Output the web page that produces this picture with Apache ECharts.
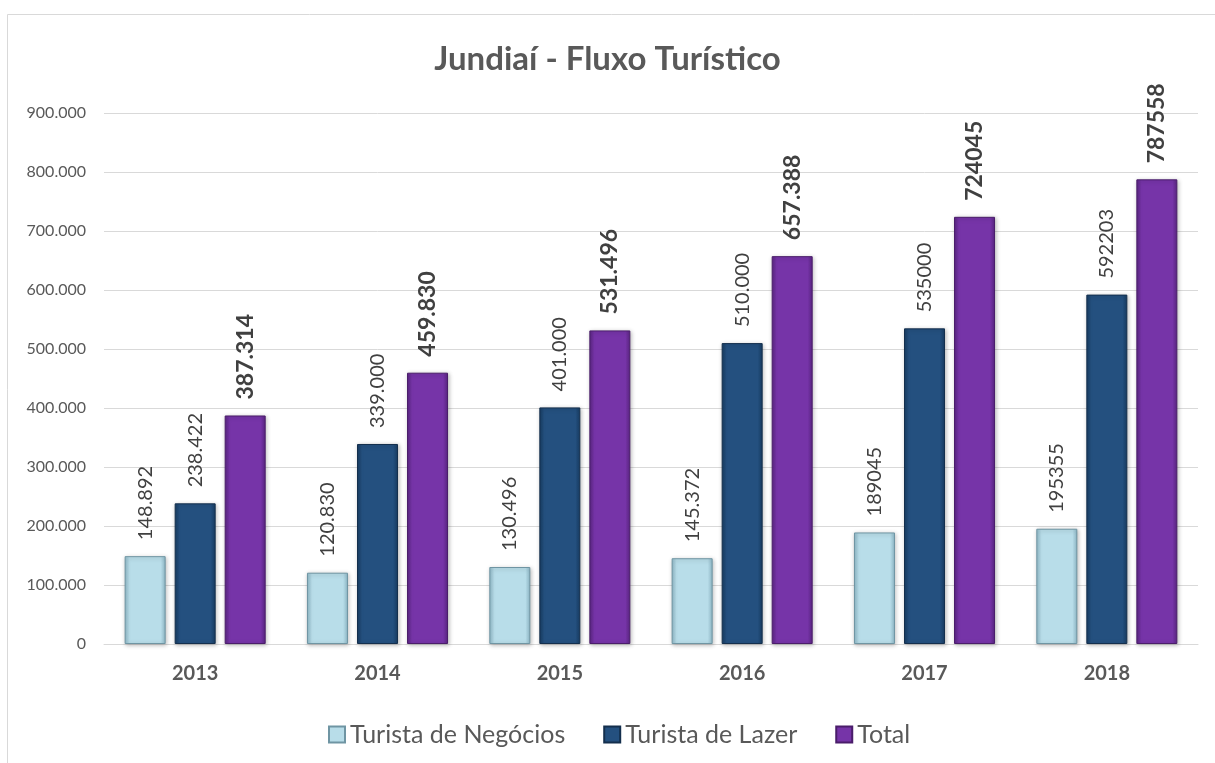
<!DOCTYPE html>
<html><head><meta charset="utf-8">
<script src="https://cdn.jsdelivr.net/npm/echarts@6/dist/echarts.min.js"></script>
<style>html,body{margin:0;padding:0;background:#fff}#c{width:1215px;height:763px}</style>
</head><body><div id="c"></div>
<script>
const categories = ['2013','2014','2015','2016','2017','2018'];
const negocios = [148892,120830,130496,145372,189045,195355];
const lazer = [238422,339000,401000,510000,535000,592203];
const total = [387314,459830,531496,657388,724045,787558];
const negociosLabels = ['148.892','120.830','130.496','145.372','189045','195355'];
const lazerLabels = ['238.422','339.000','401.000','510.000','535000','592203'];
const totalLabels = ['387.314','459.830','531.496','657.388','724045','787558'];
const seriesNames = ['Turista de Negócios','Turista de Lazer','Total'];
const yTicks = {min:0,max:900000,interval:100000};

const FONT = 'Lato, "Noto Sans", sans-serif';
function grad(edge, mid){
  return new echarts.graphic.LinearGradient(0,0,1,0,[
    {offset:0,color:edge},{offset:0.12,color:mid},{offset:0.88,color:mid},{offset:1,color:edge}]);
}
function mk(name, data, labels, edge, mid, border, bold){
  return {
    name, type:'bar', data, barWidth:41, barGap:'22%',
    itemStyle:{color:grad(edge,mid), borderColor:border, borderWidth:1,
      shadowColor:'rgba(0,0,0,0.25)', shadowBlur:4, shadowOffsetX:1, shadowOffsetY:1},
    label:{show:true, position:'top', rotate:90, align:'left', verticalAlign:'middle', distance:16,
      fontFamily:FONT, fontSize:bold?23:20, fontWeight:bold?'bold':'normal', color:'#404040',
      formatter:p=>labels[p.dataIndex]}
  };
}
const chart = echarts.init(document.getElementById('c'));
chart.setOption({
  animation:false,
  backgroundColor:'#fff',
  graphic:[{type:'rect', shape:{x:7.5,y:14.5,width:1400,height:900},
    style:{fill:'none',stroke:'#d9d9d9',lineWidth:1}, silent:true}],
  title:{text:'Jundiaí - Fluxo Turístico', left:'center', top:38,
    textStyle:{fontFamily:FONT, fontSize:33, fontWeight:'bold', color:'#595959'}},
  legend:{top:717, left:323, itemWidth:16, itemHeight:16, itemGap:38,
    textStyle:{fontFamily:FONT, fontSize:25, color:'#595959'},
    data:seriesNames.map(n=>({name:n, icon:'rect'}))},
  grid:{left:104, right:17, top:113, bottom:119, containLabel:false},
  xAxis:{type:'category', data:categories,
    axisLine:{lineStyle:{color:'#d9d9d9'}}, axisTick:{show:false},
    axisLabel:{fontFamily:FONT, fontSize:20, fontWeight:'bold', color:'#595959', margin:20}},
  yAxis:{type:'value', min:yTicks.min, max:yTicks.max, interval:yTicks.interval,
    axisLine:{show:false}, axisTick:{show:false},
    splitLine:{lineStyle:{color:'#d9d9d9'}},
    axisLabel:{fontFamily:FONT, fontSize:16, color:'#595959', margin:18,
      formatter:v=>v.toLocaleString('de-DE')}},
  series:[
    mk(seriesNames[0], negocios, negociosLabels, '#8fb9c8', '#b8dde9', '#6f95a3', false),
    mk(seriesNames[1], lazer, lazerLabels, '#173c62', '#24507f', '#142f4d', false),
    mk(seriesNames[2], total, totalLabels, '#5a2582', '#7634a8', '#4a1d6a', true)
  ]
});
</script></body></html>
